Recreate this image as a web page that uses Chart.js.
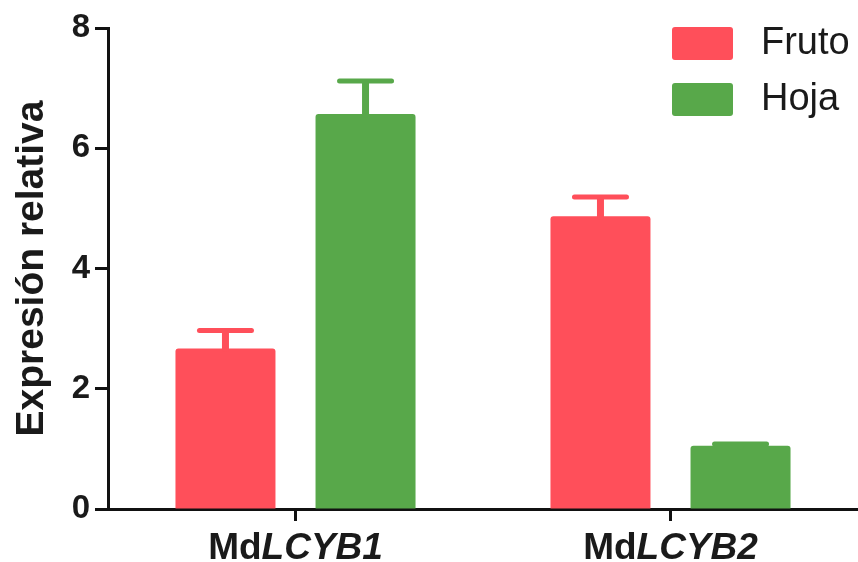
<!DOCTYPE html>
<html>
<head>
<meta charset="utf-8">
<script src="https://cdn.jsdelivr.net/npm/chart.js@4/dist/chart.umd.min.js"></script>
<style>
  html, body { margin: 0; padding: 0; background: #fff; }
  #wrap { width: 858px; height: 562px; }
</style>
</head>
<body>
<div id="wrap"><canvas id="grafico"></canvas></div>
<script>
// datos
const genes = [['Md', 'LCYB1'], ['Md', 'LCYB2']];
const fruto = [2.67, 4.87];
const frutoErr = [0.30, 0.32];
const hoja = [6.57, 1.05];
const hojaErr = [0.55, 0.03];
const yTicks = [0, 2, 4, 6, 8];

const rojo = '#FF4F5A';
const verde = '#58A84A';
const fuente = "'Liberation Sans', Arial, sans-serif";

// barras de error (solo hacia arriba) y etiquetas del eje x
const extras = {
    id: 'extras',
    afterDatasetsDraw(chart) {
        const ctx = chart.ctx;
        const y = chart.scales.y;
        chart.data.datasets.forEach((ds, i) => {
            const meta = chart.getDatasetMeta(i);
            ctx.save();
            ctx.strokeStyle = ds.backgroundColor;
            ctx.lineCap = 'round';
            meta.data.forEach((bar, j) => {
                const top = y.getPixelForValue(ds.data[j] + ds.errores[j]);
                ctx.lineWidth = 7;
                ctx.beginPath();
                ctx.moveTo(bar.x, bar.y);
                ctx.lineTo(bar.x, top + 2);
                ctx.stroke();
                ctx.lineWidth = 5;
                ctx.beginPath();
                ctx.moveTo(bar.x - 26, top);
                ctx.lineTo(bar.x + 26, top);
                ctx.stroke();
            });
            ctx.restore();
        });
    },
    afterDraw(chart) {
        const ctx = chart.ctx;
        const x = chart.scales.x;
        ctx.save();
        ctx.fillStyle = '#1a1a1a';
        ctx.textBaseline = 'alphabetic';
        genes.forEach((g, i) => {
            const cx = x.getPixelForValue(i);
            ctx.font = 'bold 37px ' + fuente;
            const w1 = ctx.measureText(g[0]).width;
            ctx.font = 'italic bold 37px ' + fuente;
            const w2 = ctx.measureText(g[1]).width;
            let sx = cx - (w1 + w2) / 2;
            ctx.font = 'bold 37px ' + fuente;
            ctx.fillText(g[0], sx, 559);
            ctx.font = 'italic bold 37px ' + fuente;
            ctx.fillText(g[1], sx + w1, 559);
        });

        // leyenda
        const items = chart.data.datasets;
        items.forEach((ds, i) => {
            const top = 27 + i * 56;
            ctx.fillStyle = ds.backgroundColor;
            ctx.beginPath();
            ctx.roundRect(672, top, 61, 33, 3);
            ctx.fill();
            ctx.fillStyle = '#1a1a1a';
            ctx.font = '38px ' + fuente;
            ctx.textBaseline = 'middle';
            ctx.fillText(ds.label, 761, top + 17);
        });
        ctx.restore();
    }
};

new Chart(document.getElementById('grafico'), {
    type: 'bar',
    data: {
        labels: genes.map(g => g.join('')),
        datasets: [
            { label: 'Fruto', data: fruto, errores: frutoErr, backgroundColor: rojo },
            { label: 'Hoja', data: hoja, errores: hojaErr, backgroundColor: verde }
        ]
    },
    options: {
        responsive: true,
        maintainAspectRatio: false,
        animation: false,
        layout: { padding: { top: 28, right: 0, left: 0, bottom: 0 } },
        datasets: {
            bar: {
                barPercentage: 0.714,
                categoryPercentage: 0.747,
                borderRadius: 3,
                borderSkipped: 'bottom'
            }
        },
        plugins: {
            legend: { display: false },
            tooltip: { enabled: false }
        },
        scales: {
            x: {
                afterFit: s => { s.height = 53; },
                grid: {
                    offset: false,
                    drawOnChartArea: false,
                    color: '#111',
                    tickLength: 12,
                    tickWidth: 3
                },
                border: { color: '#111', width: 3 },
                ticks: { display: false }
            },
            y: {
                min: 0,
                max: 8,
                afterFit: s => { s.width = 108; },
                afterBuildTicks: s => { s.ticks = yTicks.map(v => ({ value: v })); },
                grid: {
                    drawOnChartArea: false,
                    color: '#111',
                    tickLength: 13,
                    tickWidth: 3
                },
                border: { color: '#111', width: 3 },
                ticks: {
                    color: '#1a1a1a',
                    padding: 5,
                    font: { family: fuente, size: 33, weight: 'bold' }
                },
                title: {
                    display: true,
                    text: 'Expresión relativa',
                    color: '#1a1a1a',
                    padding: { top: 9, bottom: 0 },
                    font: { family: fuente, size: 39, weight: 'bold' }
                }
            }
        }
    },
    plugins: [extras]
});
</script>
</body>
</html>
